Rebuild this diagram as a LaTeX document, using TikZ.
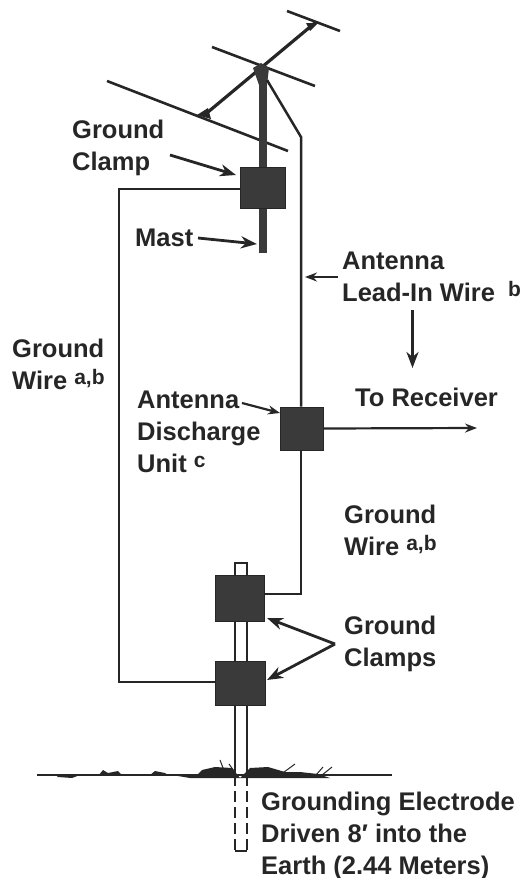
\documentclass[tikz,border=0pt]{standalone}
\usepackage{fontspec}
\setmainfont{Liberation Sans}
\usetikzlibrary{arrows.meta}
\definecolor{ink}{HTML}{262626}
\definecolor{fillk}{HTML}{3A3A3A}
\tikzset{
  lab/.style={font=\fontsize{25.5}{32}\selectfont\bfseries,text=ink,align=left,anchor=north west,inner sep=0pt},
  wire/.style={draw=ink,line width=2.5pt},
  rod/.style={draw=ink,line width=2pt},
  box/.style={fill=fillk,draw=ink,line width=.8pt,inner sep=0pt,rectangle},
  elem/.style={draw=ink,line width=2.6pt},
  call/.style={draw=ink,line width=2.8pt,-{Stealth[length=16pt,width=12pt,inset=5pt]}},
  thin call/.style={draw=ink,line width=2.2pt,-{Stealth[length=12pt,width=9pt,inset=4pt]}},
  grass/.style={draw=ink,line width=1pt}
}
\newcommand{\fl}{\rule{0pt}{19pt}}
\newcommand{\sm}[1]{\raisebox{5pt}{\fontsize{21}{21}\selectfont #1}}
\begin{document}
\begin{tikzpicture}[x=1pt,y=-1pt]
\useasboundingbox (0,0) rectangle (523,878);
% coordinates
\coordinate (boomA) at (208,112);
\coordinate (boomB) at (316,22);
\coordinate (e1a) at (287,11); \coordinate (e1b) at (340,31);
\coordinate (e2a) at (212,47); \coordinate (e2b) at (315,86);
\coordinate (e3a) at (107,81); \coordinate (e3b) at (288,151);
\coordinate (mastT) at (263,75);
\coordinate (mastB) at (263,253);
\coordinate (bend) at (301,137);
\coordinate (leadT) at (267,80);
% antenna
\draw[elem] (e1a) -- (e1b);
\draw[elem] (e2a) -- (e2b);
\draw[elem] (e3a) -- (e3b);
\draw[draw=ink,line width=3.2pt] (boomA) -- (boomB);
\fill[ink] (197,115) -- (208,108) -- (211,119) -- cycle;
\fill[ink] (306,23) -- (318,23) -- (310,31) -- cycle;
\fill[fillk] (253,68) -- (261,63) -- (269,68) -- (267,85) -- (259,85) -- cycle;
\draw[draw=fillk,line width=7.5pt] (mastT) -- (mastB);
\node[box,minimum width=45pt,minimum height=41pt] (clampTop) at (262.5,187.5) {};
% wires
\coordinate (gL1) at (119,189);
\coordinate (gL2) at (119,682);
\node[box,minimum width=43pt,minimum height=43pt] (unit) at (301.5,428.5) {};
\node[box,minimum width=49pt,minimum height=46pt] (clampU) at (239.5,598) {};
\node[box,minimum width=50pt,minimum height=44pt] (clampL) at (240,683) {};
\coordinate (uWire) at (301,594);
\draw[wire,line join=miter] (clampTop.west |- gL1) -- (gL1) -- (gL2) -- (clampL.west |- gL2);
\draw[wire,line join=miter] (leadT) -- (bend) -- (unit.north -| bend);
\draw[wire,line join=miter] (unit.south -| bend) -- (uWire) -- (clampU.east |- uWire);
% electrode
\coordinate (elT) at (234.5,563);
\coordinate (erT) at (247,563);
\coordinate (elG) at (234.5,775);
\coordinate (erG) at (247,775);
\coordinate (elB) at (234.5,851);
\coordinate (erB) at (247,851);
\draw[rod] (clampU.north -| elT) -- (elT) -- (erT) -- (clampU.north -| erT);
\draw[rod] (clampU.south -| elT) -- (clampL.north -| elT);
\draw[rod] (clampU.south -| erT) -- (clampL.north -| erT);
\draw[rod] (clampL.south -| elT) -- (elG);
\draw[rod] (clampL.south -| erT) -- (erG);
\draw[rod,dash pattern=on 11pt off 5pt] (elG) -- (elB);
\draw[rod,dash pattern=on 11pt off 5pt] (erG) -- (erB);
\draw[rod] (elB) -- (erB);
% ground
\coordinate (gndL) at (37,775);
\coordinate (gndR) at (392,775);
\draw[draw=ink,line width=2.6pt] (gndL) -- (gndR);
\fill[ink] (55,774) -- (80,775) -- (72,778) -- (58,777) -- cycle;
\fill[ink] (98,776) -- (103,770) -- (108,773) -- (118,771) -- (122,775) -- cycle;
\fill[ink] (150,775) -- (155,771) -- (165,773) -- (168,775) -- cycle;
\fill[ink] (178,776) -- (198,774) -- (202,770) -- (215,767) -- (232,768) -- (240,778) -- (190,778) -- cycle;
\fill[ink] (240,778) -- (250,768) -- (268,767) -- (285,772) -- (300,772) -- (318,774) -- (330,778) -- cycle;
\draw[grass] (225,773) -- (220,760);
\draw[grass] (234,771) -- (229,764);
\draw[grass] (280,775) -- (295,764);
\draw[grass] (316,775) -- (323,767);
\draw[grass] (322,775) -- (332,767);
% labels
\node[lab] (tClamp) at (72,119) {\fl Ground\\Clamp};
\node[lab] (tMast) at (135,227) {\fl Mast};
\node[lab] (tLead) at (342,250) {\fl Antenna\\Lead-In Wire\hspace{6pt} \sm{b}};
\node[lab] (tGW1) at (12,338) {\fl Ground\\Wire \sm{a,b}};
\node[lab] (tUnit) at (137,389) {\fl Antenna\\Discharge\\Unit \sm{c}};
\node[lab] (tRecv) at (355,387) {\fl To Receiver};
\node[lab] (tGW2) at (344,504) {\fl Ground\\Wire \sm{a,b}};
\node[lab] (tClamps) at (344,615) {\fl Ground\\Clamps};
\node[lab] (tElec) at (261,791) {\fl Grounding Electrode\\Driven 8′ into the\\Earth (2.44 Meters)};
% callouts
\coordinate (cvx) at (335,644);
\draw[call] (170,155) -- (236,175);
\draw[call] (198,238) -- (257,244);
\draw[thin call] (338,277) -- (305,277);
\draw[call] (412.5,310) -- (412.5,368);
\draw[thin call] (unit.east) -- (477,428);
\draw[thin call] (242,403) -- (280,413);
\draw[call] (cvx) -- (267,618);
\draw[call] (cvx) -- (267,680);
\end{tikzpicture}
\end{document}
